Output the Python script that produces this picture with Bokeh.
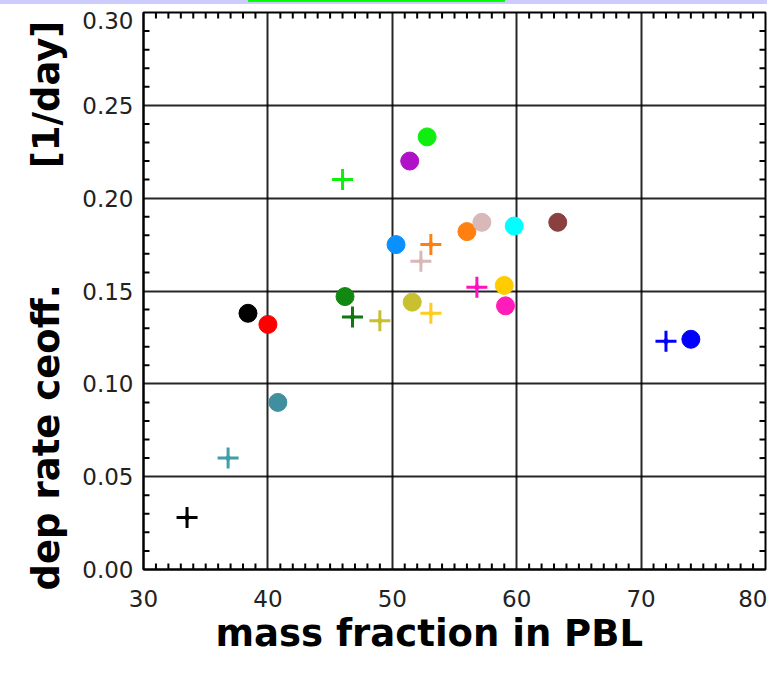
from bokeh.plotting import figure
from bokeh.models import (Range1d, LinearAxis, FixedTicker, Grid, PrintfTickFormatter, Div, Title)
from bokeh.layouts import column
from bokeh.embed import file_html
from bokeh.resources import INLINE
from math import pi

# ---- data ----
circle_x = [38.4, 40.0, 40.8, 46.2, 51.6, 59.0, 59.1, 50.3, 56.0, 57.2, 59.8, 63.3, 52.8, 51.4, 74.0]
circle_y = [0.138, 0.132, 0.090, 0.147, 0.144, 0.153, 0.142, 0.175, 0.182, 0.187, 0.185, 0.187, 0.233, 0.220, 0.124]
circle_colors = ["#000000", "#ff0000", "#3f8f9f", "#118811", "#c8c030", "#ffcc00", "#ff1cb8",
                 "#0a90ff", "#ff8010", "#d8b8b8", "#00ffff", "#8b4040", "#10ee10", "#b010c8", "#0000ff"]

cross_x = [33.5, 36.8, 46.8, 49.0, 53.1, 56.8, 52.3, 53.1, 46.0, 72.0]
cross_y = [0.028, 0.060, 0.136, 0.134, 0.138, 0.152, 0.166, 0.175, 0.210, 0.123]
cross_colors = ["#000000", "#3f9fa8", "#117711", "#c8c030", "#ffcc20", "#ff10c0",
                "#d8b8b8", "#ff8010", "#10ee10", "#0000ff"]

x_ticks = [30, 40, 50, 60, 70, 80]
y_ticks = [0.0, 0.05, 0.10, 0.15, 0.20, 0.25, 0.30]
x_minor = [v for v in range(31, 80) if v % 10]
y_minor = [v / 100 for v in range(1, 30) if v % 5]

x_label = "mass fraction in PBL"
y_label_main = "dep rate ceoff."
y_label_unit = "[1/day]"

FONT = "DejaVu Sans"
NB = "\u00a0"

p = figure(width=767, height=658, output_backend="svg", toolbar_location=None,
           x_range=Range1d(30, 80), y_range=Range1d(0, 0.30),
           min_border_left=143, min_border_right=2, min_border_top=8, min_border_bottom=93,
           x_axis_type=None, y_axis_type=None)
p.background_fill_color = "white"
p.border_fill_color = "white"
p.outline_line_color = "black"
p.outline_line_width = 2

xt = FixedTicker(ticks=x_ticks)
yt = FixedTicker(ticks=y_ticks)
# tick-label positions: the top label sits a little below the frame edge, as in the original
y_label_ticks = FixedTicker(ticks=y_ticks[:-1] + [y_ticks[-1] - 0.0045])


def style_axis(ax):
    ax.axis_line_color = "black"
    ax.axis_line_width = 2
    ax.major_tick_in = 0
    ax.major_tick_out = 0
    ax.minor_tick_line_color = None
    ax.major_label_text_font = FONT
    ax.major_label_text_font_size = "23px"
    ax.major_label_text_color = "#222222"
    return ax


xb = style_axis(LinearAxis(ticker=xt))
xb.major_label_standoff = 20
p.add_layout(xb, "below")

yl = style_axis(LinearAxis(ticker=y_label_ticks, formatter=PrintfTickFormatter(format="%.2f")))
yl.major_label_standoff = 10
p.add_layout(yl, "left")

for dim, tk in ((0, xt), (1, yt)):
    p.add_layout(Grid(dimension=dim, ticker=tk, grid_line_color="black", grid_line_width=2,
                      grid_line_alpha=0.85))

# axis titles
p.add_layout(Title(text=x_label, align="left", offset=72, standoff=0,
                   text_font=FONT, text_font_style="bold", text_font_size="37px",
                   text_color="black"), "below")
p.add_layout(Title(text=y_label_main + NB * 9 + y_label_unit, align="left", offset=-21,
                   standoff=20, vertical_align="top", text_font=FONT, text_font_style="bold",
                   text_font_size="37px", text_color="black"), "left")

# minor ticks on all four sides (dash markers centred on the frame edge; outer half is clipped)
x_lo, x_hi = p.x_range.start, p.x_range.end
y_lo, y_hi = p.y_range.start, p.y_range.end
for yy in (y_lo, y_hi):
    p.scatter(x_minor, [yy] * len(x_minor), marker="dash", size=12, angle=pi / 2,
              line_color="black", line_width=2)
for xx in (x_lo, x_hi):
    p.scatter([xx] * len(y_minor), y_minor, marker="dash", size=12, angle=0,
              line_color="black", line_width=2)

# circles
p.scatter(circle_x, circle_y, marker="circle", size=18, fill_color=circle_colors,
          line_color=circle_colors, line_width=1)
# four-pointed crosses
p.scatter(cross_x, cross_y, marker="cross", size=21, line_color=cross_colors, line_width=3)
p.scatter(cross_x, cross_y, marker="diamond", size=9, fill_color=cross_colors,
          line_color=cross_colors, line_width=0)

band = Div(width=767, height=4, margin=0,
           styles={"background": "linear-gradient(#00ff00, #00ff00) 248px 0 / 257px 2px no-repeat, #ccccff"})

layout = column(band, p, spacing=0)

open("out.html", "w").write(file_html(layout, INLINE))
